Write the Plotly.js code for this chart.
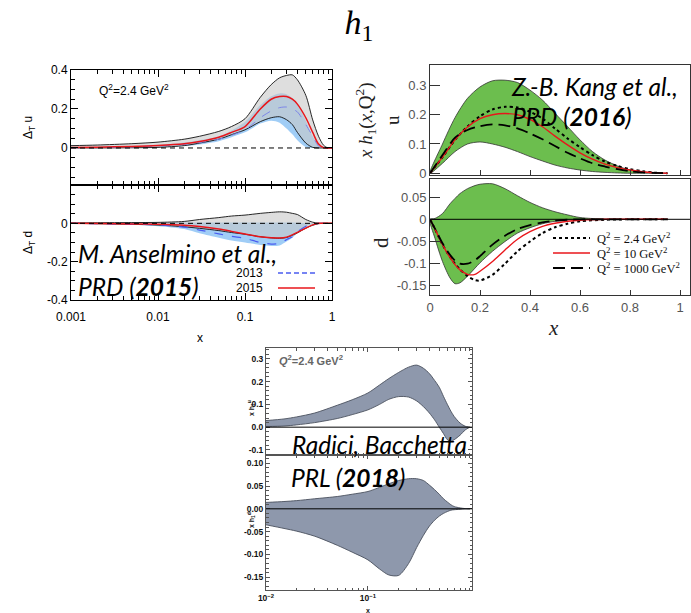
<!DOCTYPE html>
<html><head><meta charset="utf-8">
<script src="https://cdn.plot.ly/plotly-3.0.1.min.js"></script>
<style>html,body{margin:0;padding:0;background:#fff;}#plot{width:691px;height:613px;}</style>
</head><body><div id="plot"></div>
<script>
// ---------- Anselmino et al., PRD 2015 (top-left, log x) ----------
const xA = [0.001,0.002,0.005,0.01,0.02,0.03,0.05,0.07,0.1,0.15,0.2,0.25,0.3,0.35,0.4,0.5,0.6,0.7,0.8,0.9,1.0];
const uBand15Up = [0.012,0.015,0.022,0.03,0.045,0.06,0.085,0.11,0.15,0.26,0.325,0.36,0.372,0.375,0.35,0.27,0.144,0.06,0.014,0,0];
const uBand15Lo = [0,0,0.001,0.003,0.012,0.025,0.045,0.068,0.093,0.135,0.155,0.16,0.145,0.12,0.08,0.025,0.003,0,0,0,0];
const uBand13Up = [0.004,0.006,0.01,0.016,0.028,0.04,0.06,0.09,0.135,0.22,0.265,0.28,0.275,0.255,0.225,0.14,0.06,0.015,0,0,0];
const uBand13Lo = [0,0,0.002,0.004,0.01,0.018,0.035,0.055,0.08,0.125,0.14,0.13,0.1,0.07,0.04,0.005,0,0,0,0,0];
const u2015 = [0.002,0.004,0.008,0.013,0.022,0.033,0.055,0.08,0.11,0.2,0.25,0.264,0.264,0.25,0.225,0.155,0.08,0.02,0.002,0,0];
const u2013 = [0.001,0.002,0.005,0.01,0.018,0.028,0.045,0.065,0.093,0.155,0.19,0.207,0.21,0.2,0.185,0.12,0.06,0.01,0,0,0];
const dBand15Up = [0.002,0.003,0.004,0.005,0.01,0.02,0.03,0.038,0.043,0.052,0.057,0.06,0.058,0.052,0.046,0.02,0.006,0,0,0,0];
const dBand15Lo = [0,-0.002,-0.005,-0.009,-0.018,-0.026,-0.038,-0.048,-0.057,-0.07,-0.076,-0.078,-0.074,-0.062,-0.05,-0.025,-0.01,-0.002,0,0,0];
const dBand13Up = [0.001,0.002,0.003,0.004,0.004,0.004,0.004,0.004,0.004,0.004,0.004,0.004,0.004,0.004,0.003,0.001,0,0,0,0,0];
const dBand13Lo = [-0.001,-0.004,-0.009,-0.015,-0.03,-0.052,-0.075,-0.09,-0.1,-0.113,-0.118,-0.115,-0.095,-0.075,-0.05,-0.015,-0.003,0,0,0,0];
const d2015 = [0,-0.001,-0.003,-0.005,-0.01,-0.017,-0.03,-0.042,-0.056,-0.07,-0.075,-0.077,-0.072,-0.06,-0.047,-0.025,-0.008,0,0,0,0];
const d2013 = [0,-0.002,-0.005,-0.008,-0.02,-0.035,-0.055,-0.068,-0.078,-0.1,-0.108,-0.105,-0.085,-0.07,-0.045,-0.015,-0.005,0,0,0,0];
const xTickValsA = [0.001,0.01,0.1,1];
const xTickTextA = ['0.001','0.01','0.1','1'];
const yTickValsAu = [0,0.2,0.4];
const yTickTextAu = ['0','0.2','0.4'];
const yTickValsAd = [-0.4,-0.2,0];
const yTickTextAd = ['-0.4','-0.2','0'];
const legendA = ['2013','2015'];

// ---------- Z.-B. Kang et al., PRD 2016 (top-right, linear x) ----------
const xK = [0,0.05,0.1,0.15,0.2,0.25,0.3,0.35,0.4,0.45,0.5,0.55,0.6,0.65,0.7,0.75,0.8,0.85,0.9,0.95];
const uBandKUp = [0,0.10,0.19,0.256,0.295,0.316,0.318,0.31,0.284,0.25,0.205,0.16,0.114,0.074,0.045,0.025,0.011,0.005,0.001,0];
const uBandKLo = [0,0.034,0.074,0.1,0.107,0.1,0.089,0.074,0.057,0.042,0.028,0.018,0.011,0.006,0.003,0.001,0,0,0,0];
const uQ24 = [0,0.055,0.114,0.16,0.195,0.218,0.227,0.225,0.21,0.187,0.153,0.119,0.089,0.062,0.04,0.025,0.014,0.007,0.002,0];
const uQ10 = [0,0.055,0.114,0.158,0.187,0.2,0.204,0.2,0.184,0.159,0.127,0.097,0.07,0.048,0.031,0.019,0.011,0.005,0.002,0];
const uQ1000 = [0,0.062,0.122,0.148,0.161,0.167,0.164,0.153,0.136,0.116,0.093,0.07,0.051,0.034,0.023,0.014,0.007,0.003,0.001,0];
const xK2 = [0,0.02,0.05,0.08,0.1,0.12,0.15,0.18,0.2,0.25,0.3,0.35,0.4,0.45,0.5,0.55,0.6,0.7,0.8,0.95];
const dBandKUp = [0,0.002,0.013,0.035,0.047,0.058,0.069,0.076,0.079,0.08,0.069,0.053,0.038,0.026,0.017,0.01,0.004,0.0005,0,0];
const dBandKLo = [0,-0.043,-0.095,-0.132,-0.145,-0.143,-0.128,-0.11,-0.098,-0.072,-0.05,-0.031,-0.019,-0.01,-0.0045,-0.0015,-0.0005,0,0,0];
const dQ24 = [0,-0.022,-0.057,-0.085,-0.1,-0.113,-0.128,-0.137,-0.138,-0.125,-0.1,-0.072,-0.05,-0.031,-0.018,-0.01,-0.0045,-0.001,0,0];
const dQ10 = [0,-0.022,-0.057,-0.086,-0.102,-0.114,-0.124,-0.124,-0.117,-0.095,-0.069,-0.045,-0.028,-0.016,-0.009,-0.0045,-0.002,0,0,0];
const dQ1000 = [0,-0.021,-0.054,-0.08,-0.093,-0.1,-0.1,-0.092,-0.083,-0.057,-0.037,-0.022,-0.013,-0.007,-0.003,-0.001,0,0,0,0];
const xTickValsK = [0,0.2,0.4,0.6,0.8,1];
const xTickTextK = ['0','0.2','0.4','0.6','0.8','1'];
const yTickValsKu = [0,0.1,0.2,0.3];
const yTickTextKu = ['0','0.1','0.2','0.3'];
const yTickValsKd = [-0.15,-0.1,-0.05,0,0.05];
const yTickTextKd = ['-0.15','-0.1','-0.05','0','0.05'];
const legendK = ['Q<sup>2</sup> = 2.4 GeV<sup>2</sup>','Q<sup>2</sup> = 10 GeV<sup>2</sup>','Q<sup>2</sup> = 1000 GeV<sup>2</sup>'];

// ---------- Radici, Bacchetta, PRL 2018 (bottom, log x) ----------
const xR = [0.01,0.015,0.02,0.03,0.05,0.07,0.1,0.13,0.16,0.2,0.25,0.3,0.35,0.4,0.45,0.5,0.55,0.6,0.65,0.7,0.8,0.9,1.0];
const uBandRUp = [0.029,0.036,0.045,0.062,0.096,0.12,0.15,0.185,0.213,0.24,0.263,0.272,0.258,0.235,0.205,0.175,0.135,0.1,0.07,0.047,0.018,0.004,0];
const uBandRLo = [0.003,0.005,0.01,0.02,0.038,0.055,0.076,0.1,0.122,0.134,0.132,0.115,0.09,0.062,0.032,0.0,-0.028,-0.055,-0.062,-0.055,-0.035,-0.012,0];
const dBandRUp = [0.014,0.016,0.018,0.022,0.027,0.032,0.038,0.047,0.055,0.062,0.066,0.066,0.062,0.052,0.042,0.032,0.022,0.015,0.009,0.005,0.002,0.0005,0];
const dBandRLo = [-0.035,-0.043,-0.049,-0.06,-0.08,-0.095,-0.112,-0.132,-0.145,-0.146,-0.12,-0.085,-0.058,-0.038,-0.025,-0.016,-0.01,-0.006,-0.003,-0.002,-0.001,0,0];
const xTickValsR = [0.01,0.1];
const xTickTextR = ['10<sup>\u22122</sup>','10<sup>\u22121</sup>'];
const yTickValsRu = [-0.1,0,0.1,0.2,0.3];
const yTickTextRu = ['-0.1','0.0','0.1','0.2','0.3'];
const yTickValsRd = [-0.15,-0.1,-0.05,0,0.05,0.1];
const yTickTextRd = ['-0.15','-0.10','-0.05','0.00','0.05','0.10'];

// ---------- helpers ----------
const W = 691, H = 613;
const X = p => p / W, Y = p => 1 - p / H;
const dom = (a, b) => [a / W, b / W];
const vdom = (top, bot) => [1 - bot / H, 1 - top / H];

function band(x, up, lo, xa, ya, fill, lc, lw) {
  return {x: x.concat(x.slice().reverse()), y: up.concat(lo.slice().reverse()),
    xaxis: xa, yaxis: ya, type: 'scatter', mode: 'lines', fill: 'toself', fillcolor: fill,
    line: {color: lc, width: lw, shape: 'spline', smoothing: 0.8}, hoverinfo: 'skip'};
}
function curve(x, y, xa, ya, color, dash, width) {
  return {x: x, y: y, xaxis: xa, yaxis: ya, type: 'scatter', mode: 'lines',
    line: {color: color, dash: dash, width: width, shape: 'spline', smoothing: 0.8}, hoverinfo: 'skip'};
}

const BLUEBAND = 'rgba(150,200,245,0.9)', GRAYBAND = 'rgba(200,200,200,0.6)';
const GREEN = 'rgb(108,190,78)', SLATE = 'rgb(142,152,172)';
const BLUE = '#4a5cf0', RED = '#e8161b';

const data = [
  band(xA, uBand13Up, uBand13Lo, 'x', 'y', BLUEBAND, 'rgba(0,0,0,0)', 0),
  band(xA, uBand15Up, uBand15Lo, 'x', 'y', GRAYBAND, '#111', 0.9),
  curve(xA, u2013, 'x', 'y', '#7d86e8', 'dash', 1),
  curve(xA, u2015, 'x', 'y', RED, 'solid', 1.5),
  band(xA, dBand13Up, dBand13Lo, 'x2', 'y2', BLUEBAND, 'rgba(0,0,0,0)', 0),
  band(xA, dBand15Up, dBand15Lo, 'x2', 'y2', GRAYBAND, '#111', 0.9),
  curve(xA, d2013, 'x2', 'y2', BLUE, 'dash', 1.2),
  curve(xA, d2015, 'x2', 'y2', RED, 'solid', 1.5),

  band(xK, uBandKUp, uBandKLo, 'x3', 'y3', GREEN, '#333', 0.8),
  curve(xK, uQ24, 'x3', 'y3', '#000', 'dot', 2),
  curve(xK, uQ10, 'x3', 'y3', RED, 'solid', 1.4),
  curve(xK, uQ1000, 'x3', 'y3', '#000', '12px,6px', 1.8),
  band(xK2, dBandKUp, dBandKLo, 'x4', 'y4', GREEN, '#333', 0.8),
  curve(xK2, dQ24, 'x4', 'y4', '#000', 'dot', 2),
  curve(xK2, dQ10, 'x4', 'y4', RED, 'solid', 1.4),
  curve(xK2, dQ1000, 'x4', 'y4', '#000', '12px,6px', 1.8),

  band(xR, uBandRUp, uBandRLo, 'x5', 'y5', SLATE, '#4a505e', 0.9),
  band(xR, dBandRUp, dBandRLo, 'x6', 'y6', SLATE, '#4a505e', 0.9)
];

const fA = {family: 'Liberation Sans, Arial, sans-serif', size: 12, color: '#000'};
const fK = {family: 'Liberation Sans, Arial, sans-serif', size: 13, color: '#555'};
const fR = {family: 'Liberation Sans, Arial, sans-serif', size: 8.5, color: '#111', weight: 'bold'};
const fCite = {family: 'Lato, sans-serif', size: 24.5, color: '#000'};

const base = {showline: true, linewidth: 1, showgrid: false, zeroline: false, ticks: 'inside', fixedrange: true};
const axA = Object.assign({}, base, {linecolor: '#000', mirror: 'allticks', tickcolor: '#000', ticklen: 7, tickfont: fA});
const axK = Object.assign({}, base, {linecolor: '#333', mirror: true, tickcolor: '#333', tickfont: fK});
const axR = Object.assign({}, base, {linecolor: '#555', mirror: 'allticks', tickcolor: '#555', ticklen: 4, tickfont: fR});

const layout = {
  width: W, height: H, margin: {l: 0, r: 0, t: 0, b: 0},
  paper_bgcolor: '#fff', plot_bgcolor: 'rgba(0,0,0,0)', showlegend: false,
  title: {text: '<i>h</i><sub>1</sub>', font: {family: 'Liberation Serif, serif', size: 34, color: '#000'},
          x: 359 / W, xanchor: 'center', xref: 'paper', y: 1 - 22 / H, yanchor: 'middle', yref: 'container'},
  xaxis: Object.assign({}, axA, {type: 'log', range: [-3, 0], domain: dom(71, 332), anchor: 'y',
    tickvals: xTickValsA, ticktext: xTickTextA, showticklabels: false, minor: {ticks: 'inside', ticklen: 4, dtick: 'D1', tickcolor: '#000'}}),
  yaxis: Object.assign({}, axA, {range: [-0.19, 0.4], domain: vdom(70, 185), anchor: 'x',
    tickvals: yTickValsAu, ticktext: yTickTextAu, minor: {ticks: 'inside', ticklen: 4, dtick: 0.05, tickcolor: '#000'}}),
  xaxis2: Object.assign({}, axA, {type: 'log', range: [-3, 0], domain: dom(71, 332), anchor: 'y2',
    tickvals: xTickValsA, ticktext: xTickTextA, ticklabelstandoff: 6, minor: {ticks: 'inside', ticklen: 4, dtick: 'D1', tickcolor: '#000'}}),
  yaxis2: Object.assign({}, axA, {range: [-0.4, 0.2], domain: vdom(185, 300), anchor: 'x2',
    tickvals: yTickValsAd, ticktext: yTickTextAd, minor: {ticks: 'inside', ticklen: 4, dtick: 0.05, tickcolor: '#000'}}),

  xaxis3: Object.assign({}, axK, {range: [0, 1.04], domain: dom(430, 690), anchor: 'y3',
    tickvals: xTickValsK, ticktext: xTickTextK, showticklabels: false, ticklen: 5}),
  yaxis3: Object.assign({}, axK, {range: [-0.006, 0.37], domain: vdom(65, 175), anchor: 'x3',
    tickvals: yTickValsKu, ticktext: yTickTextKu, ticklen: 10}),
  xaxis4: Object.assign({}, axK, {range: [0, 1.04], domain: dom(430, 690), anchor: 'y4',
    tickvals: xTickValsK, ticktext: xTickTextK, ticklen: 5}),
  yaxis4: Object.assign({}, axK, {range: [-0.1705, 0.0908], domain: vdom(179, 295), anchor: 'x4',
    tickvals: yTickValsKd, ticktext: yTickTextKd, ticklen: 10}),

  xaxis5: Object.assign({}, axR, {type: 'log', range: [-2, 0.02], domain: dom(266, 472), anchor: 'y5',
    tickvals: xTickValsR, ticktext: xTickTextR, showticklabels: false, minor: {ticks: 'inside', ticklen: 2.5, dtick: 'D1', tickcolor: '#555'}}),
  yaxis5: Object.assign({}, axR, {range: [-0.122, 0.347], domain: vdom(348, 455), anchor: 'x5',
    tickvals: yTickValsRu, ticktext: yTickTextRu, minor: {ticks: 'inside', ticklen: 2.5, dtick: 0.02, tickcolor: '#555'}}),
  xaxis6: Object.assign({}, axR, {type: 'log', range: [-2, 0.02], domain: dom(266, 472), anchor: 'y6',
    tickvals: xTickValsR, ticktext: xTickTextR, ticklabelstandoff: 0, minor: {ticks: 'inside', ticklen: 2.5, dtick: 'D1', tickcolor: '#555'}}),
  yaxis6: Object.assign({}, axR, {range: [-0.178, 0.118], domain: vdom(455, 590), anchor: 'x6',
    tickvals: yTickValsRd, ticktext: yTickTextRd, minor: {ticks: 'inside', ticklen: 2.5, dtick: 0.01, tickcolor: '#555'}}),

  shapes: [
    {type: 'line', xref: 'x domain', yref: 'y', x0: 0, x1: 1, y0: 0, y1: 0, line: {color: '#000', width: 1, dash: '5px,4px'}},
    {type: 'line', xref: 'x2 domain', yref: 'y2', x0: 0, x1: 1, y0: 0, y1: 0, line: {color: '#000', width: 1, dash: '5px,4px'}},
    {type: 'line', xref: 'x4 domain', yref: 'y4', x0: 0, x1: 1, y0: 0, y1: 0, line: {color: '#000', width: 1}},
    {type: 'line', xref: 'x5 domain', yref: 'y5', x0: 0, x1: 1, y0: 0, y1: 0, line: {color: '#000', width: 1}},
    {type: 'line', xref: 'x6 domain', yref: 'y6', x0: 0, x1: 1, y0: 0, y1: 0, line: {color: '#000', width: 1}},
    // legend keys (top-left)
    {type: 'line', xref: 'paper', yref: 'paper', x0: X(278), x1: X(315), y0: Y(273), y1: Y(273), line: {color: BLUE, width: 1.3, dash: '5px,3px'}},
    {type: 'line', xref: 'paper', yref: 'paper', x0: X(278), x1: X(315), y0: Y(288), y1: Y(288), line: {color: RED, width: 1.5}},
    // legend keys (top-right)
    {type: 'line', xref: 'paper', yref: 'paper', x0: X(553), x1: X(590), y0: Y(238), y1: Y(238), line: {color: '#000', width: 2, dash: 'dot'}},
    {type: 'line', xref: 'paper', yref: 'paper', x0: X(553), x1: X(590), y0: Y(253), y1: Y(253), line: {color: RED, width: 1.4}},
    {type: 'line', xref: 'paper', yref: 'paper', x0: X(553), x1: X(590), y0: Y(268), y1: Y(268), line: {color: '#000', width: 1.8, dash: '12px,6px'}}
  ],
  annotations: [
    // top-left
    {text: 'Q<sup>2</sup>=2.4 GeV<sup>2</sup>', x: X(97), y: Y(90), xanchor: 'left', font: fA},
    {text: '\u0394<sub>T</sub> u', x: X(29), y: Y(128), textangle: -90, font: fA},
    {text: '\u0394<sub>T</sub> d', x: X(29), y: Y(243), textangle: -90, font: fA},
    {text: 'x', x: X(200), y: Y(338), font: fA},
    {text: legendA[0], x: X(265), y: Y(273), xanchor: 'right', font: fA},
    {text: legendA[1], x: X(265), y: Y(288), xanchor: 'right', font: fA},
    {text: '<i>M. Anselmino et al.,</i>', x: X(76), y: Y(254), xanchor: 'left', font: fCite},
    {text: '<i>PRD (<b>2015</b>)</i>', x: X(76), y: Y(287), xanchor: 'left', font: fCite},
    // top-right
    {text: '<i>x h</i><sub>1</sub>(<i>x</i>,Q<sup>2</sup>)', x: X(366), y: Y(121), textangle: -90, font: {family: 'Liberation Serif, serif', size: 19, color: '#222'}},
    {text: 'u', x: X(392), y: Y(120), textangle: -90, font: {family: 'Liberation Serif, serif', size: 19, color: '#222'}},
    {text: 'd', x: X(381), y: Y(243), textangle: -90, font: {family: 'Liberation Serif, serif', size: 21, color: '#222'}},
    {text: '<i>x</i>', x: X(553), y: Y(328), font: {family: 'Liberation Serif, serif', size: 21, color: '#222'}},
    {text: legendK[0], x: X(595), y: Y(238), xanchor: 'left', font: {family: 'Liberation Serif, serif', size: 12.5, color: '#111'}},
    {text: legendK[1], x: X(595), y: Y(253), xanchor: 'left', font: {family: 'Liberation Serif, serif', size: 12.5, color: '#111'}},
    {text: legendK[2], x: X(595), y: Y(268), xanchor: 'left', font: {family: 'Liberation Serif, serif', size: 12.5, color: '#111'}},
    {text: '<i>Z.-B. Kang et al.,</i>', x: X(509), y: Y(86), xanchor: 'left', font: fCite},
    {text: '<i>PRD (<b>2016</b>)</i>', x: X(510), y: Y(116), xanchor: 'left', font: fCite},
    // bottom
    {text: '<i>Q</i><sup>2</sup>=2.4 GeV<sup>2</sup>', x: X(277), y: Y(360), xanchor: 'left', font: {family: 'Liberation Sans, Arial, sans-serif', size: 11, color: '#666', weight: 'bold'}},
    {text: 'x h<sub>1</sub><sup>u</sup>', x: X(251), y: Y(408), textangle: -90, font: {family: 'Liberation Sans, Arial, sans-serif', size: 7, color: '#111', weight: 'bold'}},
    {text: 'x h<sub>1</sub><sup>d</sup>', x: X(251), y: Y(520), textangle: -90, font: {family: 'Liberation Sans, Arial, sans-serif', size: 7, color: '#111', weight: 'bold'}},
    {text: 'x', x: X(368), y: Y(610), font: {family: 'Liberation Sans, Arial, sans-serif', size: 7, color: '#111', weight: 'bold'}},
    {text: '<i>Radici, Bacchetta</i>', x: X(290), y: Y(444), xanchor: 'left', font: fCite},
    {text: '<i>PRL (<b>2018</b>)</i>', x: X(289), y: Y(477), xanchor: 'left', font: fCite}
  ].map(a => Object.assign({xref: 'paper', yref: 'paper', showarrow: false, xanchor: 'center', yanchor: 'middle'}, a))
};

Plotly.newPlot('plot', data, layout, {staticPlot: true, displayModeBar: false});
</script>
</body></html>
